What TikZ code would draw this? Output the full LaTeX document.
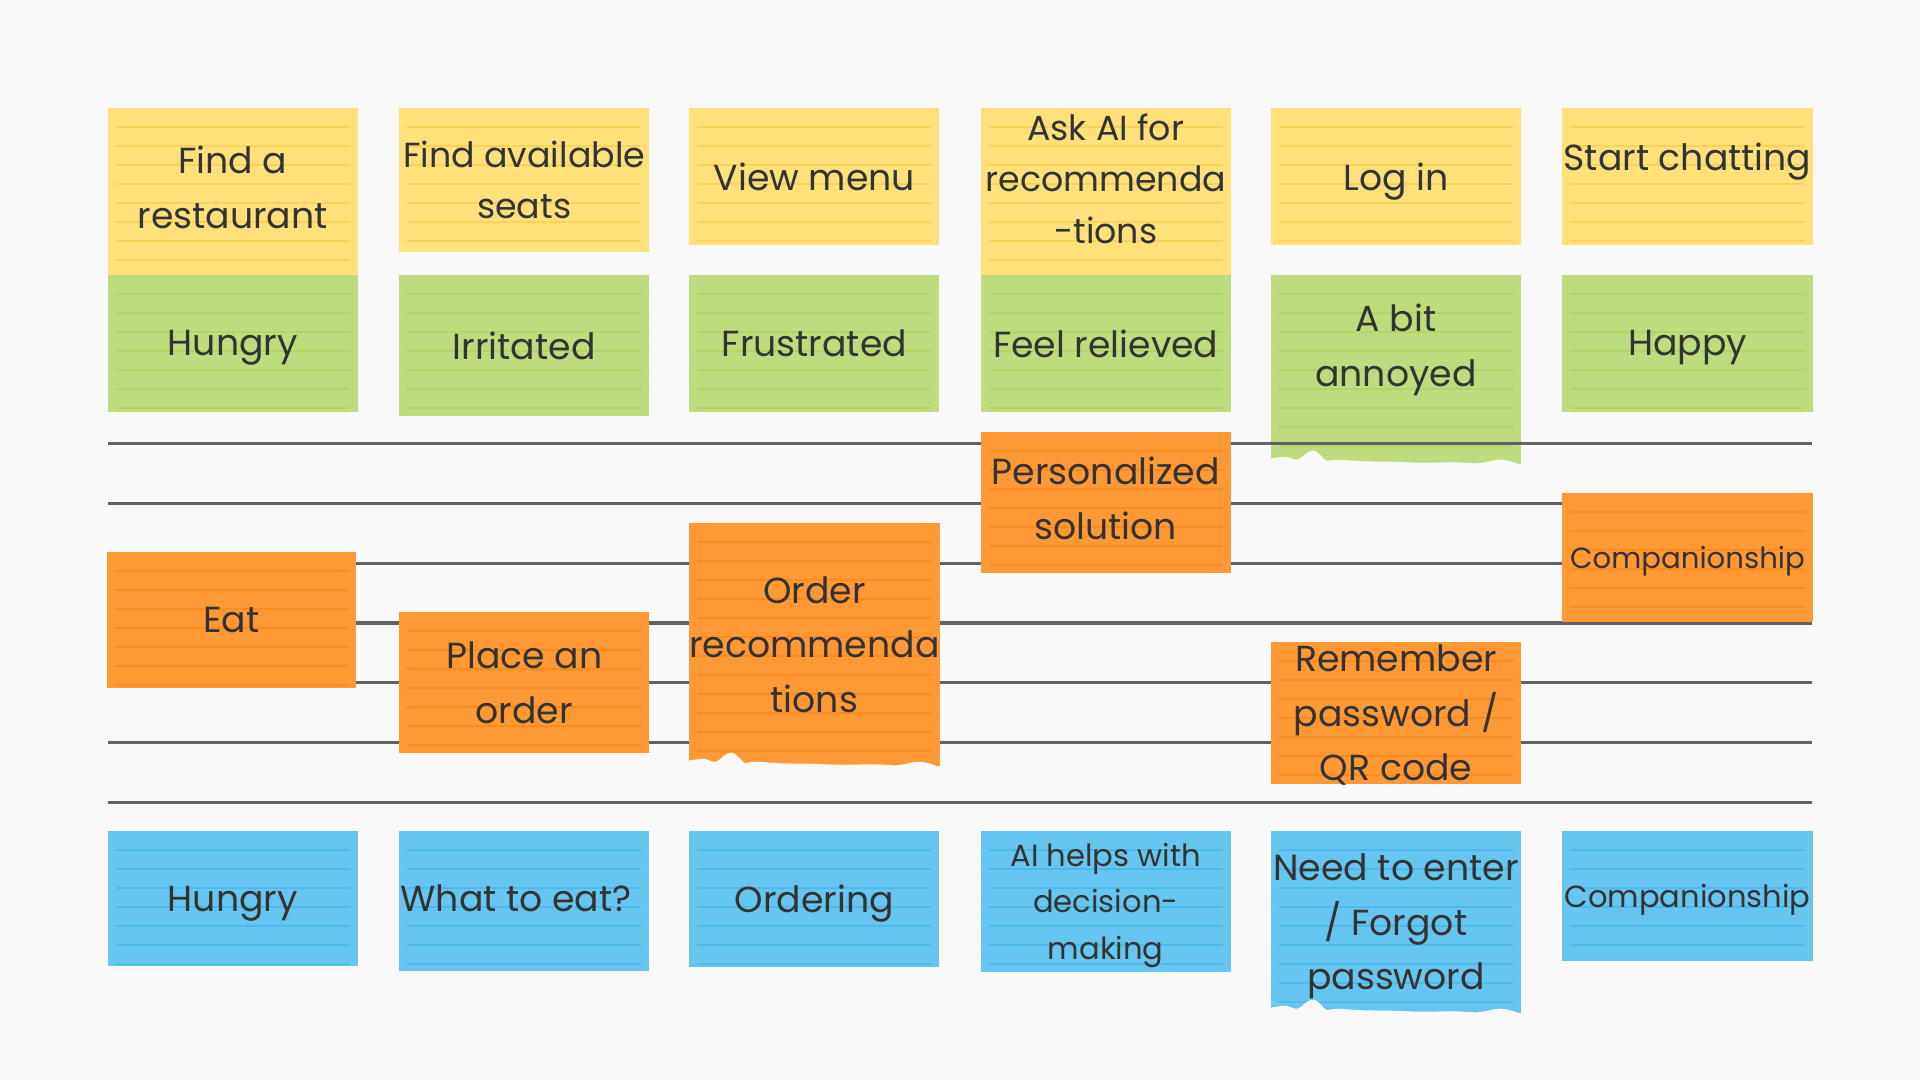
\documentclass[tikz,border=0pt]{standalone}
\usepackage{fontspec}
\setmainfont{Poppins}
\definecolor{bgc}{HTML}{F9F9F9}
\definecolor{ink}{HTML}{333333}
\definecolor{yel}{HTML}{FFE07A}
\definecolor{yelrule}{HTML}{F7D25C}
\definecolor{grn}{HTML}{BEDC7E}
\definecolor{grnrule}{HTML}{B2D568}
\definecolor{org}{HTML}{FF9935}
\definecolor{orgrule}{HTML}{FF8B1E}
\definecolor{blu}{HTML}{66C6F0}
\definecolor{blurule}{HTML}{4DBAEB}
\definecolor{lanec}{HTML}{626262}
\newcommand\tear[1]{%
  \begin{scope}[shift={(#1.south west)}]
    \fill[bgc] (-1,3) -- (-1,-6) -- plot[smooth,tension=0.55] coordinates {(0,-6) (15,-8) (27,-5) (37,-12) (44,-14) (51,-9) (56,-4) (67,-5) (92,-3.5) (122,-3) (153,-2) (184,-2.5) (208,-1.5) (228,-5) (240,-3.5) (250,0)} -- (251,0) -- (251,3) -- cycle;
  \end{scope}}
\begin{document}
\begin{tikzpicture}[x=0.01cm,y=-0.01cm,
    every node/.style={text=ink,font=\fontsize{10.3pt}{15.5pt}\selectfont,align=center,inner sep=0pt,text depth=0pt},
    small/.style={font=\fontsize{9.9pt}{14.6pt}\selectfont},
    smaller/.style={font=\fontsize{8.7pt}{13.2pt}\selectfont},
    tiny/.style={font=\fontsize{8.3pt}{12pt}\selectfont},
    note/.style 2 args={fill=#1,minimum width=2.5cm,path picture={
        \foreach \k in {1,...,13}
          \draw[#2,line width=0.6pt] ([xshift=0.08cm,yshift=-\k*0.19cm]path picture bounding box.north west)
            -- ([xshift=-0.08cm,yshift=-\k*0.19cm]path picture bounding box.north east);}},
    lane/.style={lanec,line width=0.9pt}]
    \fill[bgc] (0,0) rectangle (1920,1080);
    \node[note={yel}{yelrule},minimum height=1.67cm] (y1) at (232.8,191.5) {};
    \node (y1t) at (232.8,187) {Find a\\restaurant};
    \node[note={yel}{yelrule},minimum height=1.44cm,small] (y2) at (524.2,180) {Find available\\seats};
    \node[note={yel}{yelrule},minimum height=1.37cm] (y3) at (814.4,176.5) {View menu};
    \node[note={yel}{yelrule},minimum height=1.67cm] (y4) at (1105.8,191.5) {};
    \node[small] (y4t) at (1105.8,178.5) {Ask AI for\\recommenda\\-tions};
    \node[note={yel}{yelrule},minimum height=1.37cm] (y5) at (1396,176.5) {Log in};
    \node[note={yel}{yelrule},minimum height=1.37cm] (y6) at (1687.5,176.5) {};
    \node (y6t) at (1687.5,156.5) {Start chatting};
    \node[note={grn}{grnrule},minimum height=1.37cm] (g1) at (232.8,343.3) {Hungry};
    \node[note={grn}{grnrule},minimum height=1.41cm] (g2) at (524.2,345.5) {Irritated};
    \node[note={grn}{grnrule},minimum height=1.37cm] (g3) at (814.4,343.3) {Frustrated};
    \node[note={grn}{grnrule},minimum height=1.37cm] (g4) at (1105.8,343.3) {Feel relieved};
    \node[note={grn}{grnrule},minimum height=1.89cm] (g5) at (1396,369.5) {};
    \node (g5t) at (1396,345) {A bit\\annoyed};
    \node[note={grn}{grnrule},minimum height=1.37cm] (g6) at (1687.5,343.3) {Happy};
    \tear{g5}
    \foreach \k in {0,...,6}
        \draw[lane] (108,{443.3+59.9*\k}) -- (1812,{443.3+59.9*\k});
    \node[note={org}{orgrule},minimum height=1.36cm,minimum width=2.48cm] (o1) at (231.5,620) {Eat};
    \node[note={org}{orgrule},minimum height=1.41cm] (o2) at (524.2,682.5) {Place an\\order};
    \node[note={org}{orgrule},minimum height=2.43cm] (o3) at (814.4,644.5) {Order\\recommenda\\tions};
    \node[note={org}{orgrule},minimum height=1.41cm] (o4) at (1105.8,502.5) {};
    \node (o4t) at (1105.8,498) {Personalized\\solution};
    \node[note={org}{orgrule},minimum height=1.42cm] (o5) at (1396,713) {Remember\\password /\\QR code};
    \node[note={org}{orgrule},minimum height=1.29cm,tiny] (o6) at (1687.5,557.8) {Companionship};
    \tear{o3}
    \node[note={blu}{blurule},minimum height=1.35cm] (b1) at (232.8,898.5) {Hungry};
    \node[note={blu}{blurule},minimum height=1.40cm] (b2) at (524.2,901) {};
    \node (b2t) at (516,898) {What to eat?};
    \node[note={blu}{blurule},minimum height=1.36cm] (b3) at (814.4,898.8) {Ordering};
    \node[note={blu}{blurule},minimum height=1.41cm,smaller] (b4) at (1105.8,901.3) {AI helps with\\decision-\\making};
    \node[note={blu}{blurule},minimum height=1.82cm] (b5) at (1396,922) {Need to enter\\/ Forgot\\password};
    \node[note={blu}{blurule},minimum height=1.30cm,font=\fontsize{8.7pt}{12pt}\selectfont] (b6) at (1687.5,895.8) {Companionship};
    \tear{b5}
\end{tikzpicture}
\end{document}
